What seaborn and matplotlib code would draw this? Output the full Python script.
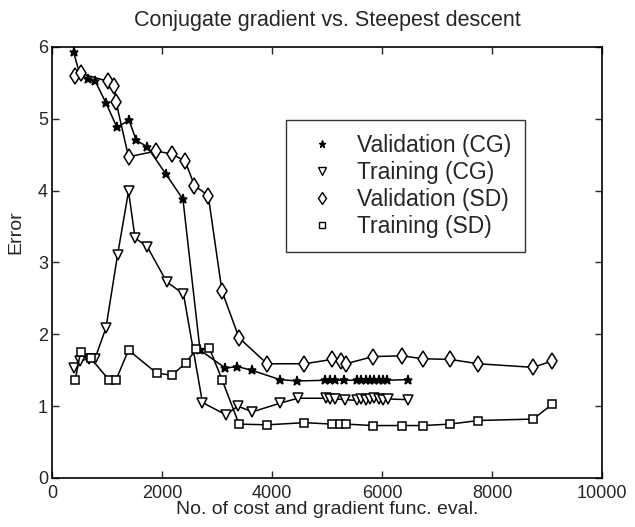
import pandas as pd
import numpy as np
import matplotlib
matplotlib.use('Agg')
import matplotlib.pyplot as plt
import seaborn as sns
from matplotlib.lines import Line2D

# values
val_cg_x = [390, 500, 660, 780, 980, 1180, 1400, 1530, 1730, 2070, 2380, 2690, 3150, 3370, 3630,
            4140, 4450, 4970, 5050, 5150, 5300, 5540, 5620, 5700, 5780, 5860, 5940, 6020, 6090, 6480]
val_cg_y = [5.93, 5.63, 5.55, 5.53, 5.22, 4.88, 4.98, 4.70, 4.61, 4.23, 3.88, 1.78, 1.53, 1.55, 1.50,
            1.37, 1.35, 1.36, 1.37, 1.36, 1.36, 1.36, 1.37, 1.36, 1.36, 1.37, 1.36, 1.37, 1.36, 1.37]

tr_cg_x = [390, 500, 680, 780, 980, 1190, 1390, 1510, 1730, 2085, 2390, 2735, 3160, 3380, 3640,
           4140, 4470, 4980, 5060, 5150, 5330, 5540, 5620, 5700, 5780, 5860, 5940, 6020, 6100, 6480]
tr_cg_y = [1.53, 1.63, 1.66, 1.66, 2.09, 3.10, 3.99, 3.34, 3.22, 2.73, 2.56, 1.05, 0.88, 1.00, 0.92,
           1.04, 1.11, 1.11, 1.10, 1.10, 1.09, 1.08, 1.10, 1.09, 1.10, 1.11, 1.10, 1.09, 1.10, 1.09]

val_sd_x = [420, 520, 1020, 1130, 1165, 1390, 1890, 2180, 2420, 2590, 2840, 3090, 3400, 3910,
            4590, 5090, 5250, 5340, 5840, 6360, 6740, 7240, 7750, 8750, 9100]
val_sd_y = [5.59, 5.63, 5.52, 5.45, 5.23, 4.47, 4.55, 4.51, 4.41, 4.07, 3.93, 2.60, 1.95, 1.59,
            1.59, 1.65, 1.63, 1.59, 1.69, 1.70, 1.66, 1.65, 1.59, 1.54, 1.63]

tr_sd_x = [420, 520, 700, 1040, 1165, 1390, 1900, 2180, 2430, 2620, 2860, 3090, 3400, 3910,
           4590, 5090, 5230, 5340, 5840, 6360, 6740, 7240, 7750, 8750, 9100]
tr_sd_y = [1.36, 1.76, 1.67, 1.36, 1.37, 1.78, 1.46, 1.43, 1.60, 1.79, 1.81, 1.37, 0.75, 0.74,
           0.77, 0.75, 0.75, 0.75, 0.73, 0.73, 0.73, 0.75, 0.80, 0.82, 1.03]

labels = ['Validation (CG)', 'Training (CG)', 'Validation (SD)', 'Training (SD)']
series = [(val_cg_x, val_cg_y), (tr_cg_x, tr_cg_y), (val_sd_x, val_sd_y), (tr_sd_x, tr_sd_y)]
markers = ['*', 'v', 'd', 's']
msizes = [6.5, 7, 8, 5.5]
fills = ['black', 'white', 'white', 'white']

sns.set_style('ticks')
plt.rcParams['font.family'] = ['Liberation Sans', 'DejaVu Sans']

fig = plt.figure(figsize=(6.35, 5.27), dpi=100)
ax = fig.add_axes([0.082, 0.093, 0.866, 0.818])

for (xs, ys), lab, m, ms, fc in zip(series, labels, markers, msizes, fills):
    df = pd.DataFrame({'x': xs, 'y': ys})
    sns.lineplot(data=df, x='x', y='y', ax=ax, color='black', sort=False, lw=1.1,
                 marker=m, markersize=ms, markerfacecolor=fc, markeredgecolor='black',
                 markeredgewidth=1.1, legend=False)

ax.set_xlim(0, 10000)
ax.set_ylim(0, 6)
ax.set_xticks(np.arange(0, 10001, 2000))
ax.set_yticks(np.arange(0, 7, 1))
ax.tick_params(direction='in', top=True, right=True, labelsize=13, length=5, width=1)
ax.tick_params(axis='x', pad=5)
ax.tick_params(axis='y', pad=3)
for s in ax.spines.values():
    s.set_linewidth(1.2)
    s.set_color('black')
ax.set_xlabel('No. of cost and gradient func. eval.', fontsize=14, labelpad=-1)
ax.set_ylabel('Error', fontsize=14)
ax.yaxis.set_label_coords(-0.05, 0.57)
ax.set_title('Conjugate gradient vs. Steepest descent', fontsize=15.5, pad=15)

handles = [Line2D([], [], ls='none', marker=m, markersize=ms * 0.8, markerfacecolor=fc,
                  markeredgecolor='black', markeredgewidth=1.0, color='black')
           for m, ms, fc in zip(markers, msizes, fills)]
leg = ax.legend(handles, labels, loc='upper left', bbox_to_anchor=(0.426, 0.830), fontsize=16.5,
                frameon=True, fancybox=False, edgecolor='black', handlelength=1.9,
                handletextpad=0.6, borderpad=0.6, labelspacing=0.18, borderaxespad=0)
leg.get_frame().set_linewidth(1.0)

fig.savefig('out.png', dpi=100)
